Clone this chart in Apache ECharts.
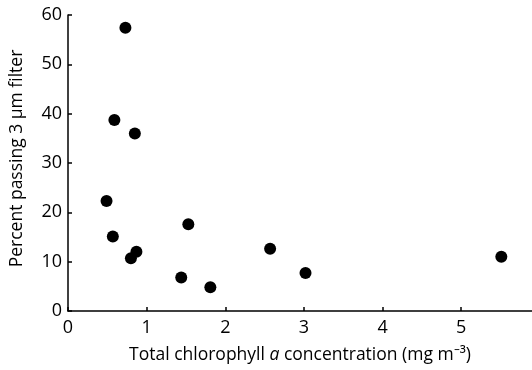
<!DOCTYPE html>
<html><head><meta charset="utf-8">
<script src="https://cdn.jsdelivr.net/npm/echarts@6/dist/echarts.min.js"></script>
<style>html,body{margin:0;padding:0;background:#fff}#c{width:532px;height:370px}</style>
</head><body><div id="c"></div>
<script>
const chlorophyll = [0.73, 0.59, 0.85, 0.49, 0.57, 0.80, 0.87, 1.44, 1.53, 2.57, 1.81, 3.02, 5.51];
const percentPassing = [57.4, 38.7, 36.0, 22.3, 15.1, 10.7, 12.0, 6.8, 17.6, 12.6, 4.8, 7.7, 11.0];
const xTicks = [0, 1, 2, 3, 4, 5];
const yTicks = [0, 10, 20, 30, 40, 50, 60];

const font = 'Open Sans';
const chart = echarts.init(document.getElementById('c'));
chart.setOption({
  animation: false,
  grid: {left: 68, top: 15, right: 0, bottom: 59, containLabel: false},
  xAxis: {
    type: 'value', min: 0, max: 5.9, interval: 1,
    splitLine: {show: false},
    axisLine: {lineStyle: {color: '#000', width: 1.5}},
    axisTick: {inside: true, length: 4, customValues: xTicks, lineStyle: {color: '#000', width: 1.5}},
    axisLabel: {color: '#000', fontFamily: font, fontSize: 18, margin: 8, customValues: xTicks},
    name: '{n|Total chlorophyll }{i|a}{n| concentration (mg m⁻³)}',
    nameLocation: 'middle', nameGap: 35,
    nameTextStyle: {rich: {
      n: {fontFamily: font, fontSize: 17.5, color: '#000'},
      i: {fontFamily: font, fontSize: 17.5, color: '#000', fontStyle: 'italic'}
    }}
  },
  yAxis: {
    type: 'value', min: 0, max: 60, interval: 10,
    splitLine: {show: false},
    axisLine: {show: true, lineStyle: {color: '#000', width: 1.5}},
    axisTick: {show: true, inside: true, length: 4, customValues: yTicks, lineStyle: {color: '#000', width: 1.5}},
    axisLabel: {color: '#000', fontFamily: font, fontSize: 18, margin: 6, customValues: yTicks},
    name: 'Percent passing 3 µm filter',
    nameLocation: 'middle', nameGap: 42,
    nameTextStyle: {fontFamily: font, fontSize: 17.5, color: '#000', padding: [0, 0, 0, 9]}
  },
  series: [{
    type: 'scatter',
    data: chlorophyll.map((x, i) => [x, percentPassing[i]]),
    symbolSize: 12,
    itemStyle: {color: '#000', opacity: 1}
  }]
});
</script></body></html>
